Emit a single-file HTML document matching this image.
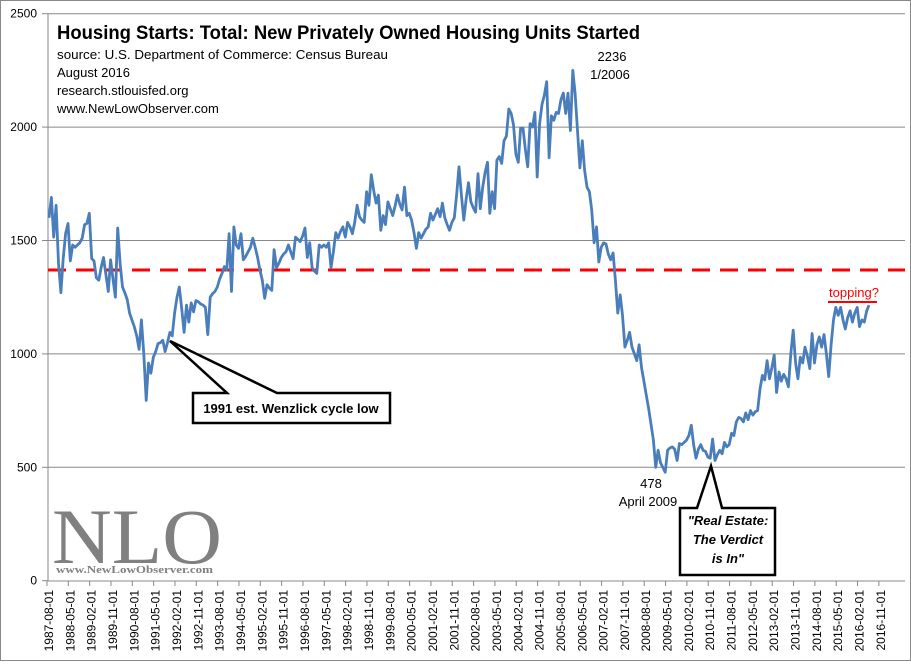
<!DOCTYPE html>
<html><head><meta charset="utf-8"><style>
html,body{margin:0;padding:0;background:#fff}
svg text{font-family:"Liberation Sans",sans-serif}
svg text.serif{font-family:"Liberation Serif",serif}
</style></head><body>
<svg id="chart" width="911" height="661" viewBox="0 0 911 661" xmlns="http://www.w3.org/2000/svg">
<rect x="0.5" y="0.5" width="910" height="660" fill="#fff" stroke="#888"/>
<g id="grid"></g>
<g id="yticks"></g>
<g id="xticks"></g>
<line x1="48" y1="270" x2="905" y2="270" stroke="#ff0000" stroke-width="3" stroke-dasharray="18,10"/>
<path id="series" fill="none" stroke="#4a7ebb" stroke-width="2.8" stroke-linejoin="round"/>
<text x="57" y="39" font-size="19" font-weight="bold" textLength="583" lengthAdjust="spacingAndGlyphs">Housing  Starts:  Total:  New Privately  Owned  Housing  Units  Started</text>
<g font-size="13">
<text x="57" y="59" textLength="331" lengthAdjust="spacingAndGlyphs">source: U.S. Department of  Commerce: Census Bureau</text>
<text x="57" y="77">August 2016</text>
<text x="57" y="95">research.stlouisfed.org</text>
<text x="57" y="113">www.NewLowObserver.com</text>
</g>
<g font-size="13" text-anchor="middle">
<text x="612" y="61">2236</text><text x="610" y="79">1/2006</text></g>
<g font-size="13" text-anchor="middle">
<text x="651" y="488">478</text><text x="648" y="506">April 2009</text></g>
<text x="854" y="297" font-size="13" fill="#ff0000" text-anchor="middle">topping?</text>
<line x1="828" y1="302" x2="877" y2="302" stroke="#ff0000" stroke-width="2"/>
<g>
<polygon points="193,393 227,393 170,341 277,393 390,393 390,423 193,423" fill="#fff" stroke="#000" stroke-width="2.5"/>
<text x="291" y="413" font-size="13" font-weight="bold" text-anchor="middle">1991  est.  Wenzlick cycle low</text></g>
<g>
<polygon points="680,508 697,508 711,466 722,508 775,508 775,575 680,575" fill="#fff" stroke="#000" stroke-width="2.5"/>
<g font-size="13" font-weight="bold" font-style="italic" text-anchor="middle">
<text x="728" y="525">"Real Estate:</text><text x="728" y="544">The Verdict</text><text x="728" y="563">is In"</text></g></g>
<text class="serif" x="52" y="563" font-size="78" fill="#808080" textLength="170" lengthAdjust="spacingAndGlyphs">NLO</text>
<text class="serif" x="56" y="573" font-size="11" font-weight="bold" fill="#808080" textLength="157" lengthAdjust="spacingAndGlyphs">www.NewLowObserver.com</text>
</svg>
<script>
const yTicks=[0,500,1000,1500,2000,2500];
const xLabels=["1987-08-01","1988-05-01","1989-02-01","1989-11-01","1990-08-01","1991-05-01","1992-02-01","1992-11-01","1993-08-01","1994-05-01","1995-02-01","1995-11-01","1996-08-01","1997-05-01","1998-02-01","1998-11-01","1999-08-01","2000-05-01","2001-02-01","2001-11-01","2002-08-01","2003-05-01","2004-02-01","2004-11-01","2005-08-01","2006-05-01","2007-02-01","2007-11-01","2008-08-01","2009-05-01","2010-02-01","2010-11-01","2011-08-01","2012-05-01","2013-02-01","2013-11-01","2014-08-01","2015-05-01","2016-02-01","2016-11-01"];
const starts=[1600,1690,1515,1655,1400,1270,1420,1530,1575,1410,1480,1470,1480,1490,1510,1570,1575,1620,1420,1410,1335,1325,1380,1425,1350,1275,1415,1330,1250,1555,1400,1295,1270,1240,1180,1150,1120,1080,1020,1150,1000,795,960,915,985,1010,1045,1050,1060,1010,1050,1095,1080,1180,1250,1295,1200,1095,1215,1140,1225,1185,1235,1230,1220,1215,1205,1085,1250,1265,1275,1295,1330,1355,1385,1370,1530,1275,1560,1480,1465,1530,1415,1430,1450,1470,1510,1470,1425,1370,1325,1245,1305,1290,1280,1460,1380,1400,1425,1440,1450,1480,1450,1420,1515,1505,1495,1520,1555,1425,1490,1380,1365,1355,1480,1470,1480,1470,1490,
1380,1450,1535,1510,1540,1560,1515,1580,1560,1530,1580,1655,1605,1590,1580,1715,1655,1790,1720,1665,1700,1545,1610,1570,1670,1640,1610,1650,1700,1660,1635,1735,1610,1620,1590,1535,1465,1535,1510,1530,1550,1560,1620,1590,1615,1640,1605,1665,1600,1570,1545,1580,1600,1700,1825,1700,1590,1680,1755,1670,1645,1625,1795,1640,1735,1800,1845,1620,1715,1640,1855,1870,1840,1940,1960,2080,2060,2010,1880,1845,1995,1995,1900,1825,2015,2000,2065,1780,2015,2100,2140,2200,1865,2050,2030,2065,2060,2120,2150,2060,2150,1985,2250,2150,1985,1820,1940,1810,1735,1715,1635,1490,1560,1405,1470,1490,1485,1440,1415,1445,1325,1180,1260,1170,1030,1060,1095,1030,1000,970,1040,940,880,820,760,690,620,500,575,520,500,478,575,585,590,580,530,605,600,610,620,640,685,600,540,580,600,575,570,545,540,625,530,555,575,560,610,590,600,650,640,700,720,715,700,740,710,750,730,745,750,845,905,885,970,890,940,995,830,920,880,910,890,855,1000,1105,960,890,985,960,1030,990,935,1090,960,1040,1075,1030,1085,1000,900,1040,1150,1205,1170,1205,1150,1110,1160,1190,1140,1180,1205,1120,1150,1140,1190,1215];
const NS='http://www.w3.org/2000/svg';
function yPos(v){return 580.7-v*0.2268;}
function xPos(i){return 49+i*2.37;}
const grid=document.getElementById('grid'),yt=document.getElementById('yticks'),xt=document.getElementById('xticks');
yTicks.forEach(v=>{
  const y=yPos(v);
  if(v>0){const g=document.createElementNS(NS,'line');
  g.setAttribute('x1',48);g.setAttribute('x2',905);g.setAttribute('y1',y);g.setAttribute('y2',y);
  g.setAttribute('stroke','#888');
  
  
  grid.appendChild(g);}
  const tk=document.createElementNS(NS,'line');
  tk.setAttribute('x1',42);tk.setAttribute('x2',48);tk.setAttribute('y1',y);tk.setAttribute('y2',y);tk.setAttribute('stroke','#888');
  yt.appendChild(tk);
  const t=document.createElementNS(NS,'text');
  t.setAttribute('x',37);t.setAttribute('y',y+4);t.setAttribute('text-anchor','end');t.setAttribute('font-size','12');
  
  
  t.textContent=v;yt.appendChild(t);
});
const ax=document.createElementNS(NS,'line');
ax.setAttribute('x1',48);ax.setAttribute('x2',48);ax.setAttribute('y1',14);ax.setAttribute('y2',581);ax.setAttribute('stroke','#888');
yt.appendChild(ax);
const bx=document.createElementNS(NS,'line');
bx.setAttribute('x1',48);bx.setAttribute('x2',905);bx.setAttribute('y1',581);bx.setAttribute('y2',581);bx.setAttribute('stroke','#888');
xt.appendChild(bx);
xLabels.forEach((l,k)=>{
  const x=xPos(k*9);
  const tk=document.createElementNS(NS,'line');
  tk.setAttribute('x1',x-2);tk.setAttribute('x2',x-2);tk.setAttribute('y1',581);tk.setAttribute('y2',586);tk.setAttribute('stroke','#888');
  xt.appendChild(tk);
  const t=document.createElementNS(NS,'text');
  t.setAttribute('transform','translate('+(x+4)+',590) rotate(-90)');
  t.setAttribute('text-anchor','end');t.setAttribute('font-size','12');
  
  
  t.textContent=l;xt.appendChild(t);
});
document.getElementById('series').setAttribute('d',starts.map((v,i)=>(i?'L':'M')+xPos(i).toFixed(1)+','+yPos(v).toFixed(1)).join(''));
</script>
</body></html>
